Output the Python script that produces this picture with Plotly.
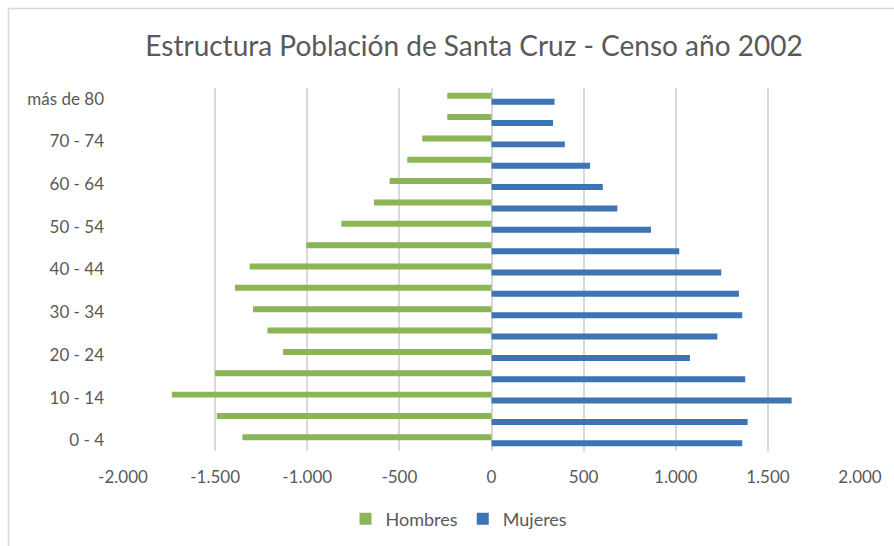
import plotly.graph_objects as go

categorias = ["0 - 4", "5 - 9", "10 - 14", "15 - 19", "20 - 24", "25 - 29", "30 - 34",
              "35 - 39", "40 - 44", "45 - 49", "50 - 54", "55 - 59", "60 - 64",
              "65 - 69", "70 - 74", "75 - 79", "más de 80"]
hombres = [1352, 1491, 1735, 1500, 1132, 1216, 1294, 1392, 1312, 1005, 815, 638, 553,
           457, 376, 240, 240]
mujeres = [1361, 1390, 1629, 1377, 1077, 1226, 1361, 1343, 1247, 1019, 866, 683, 604,
           535, 398, 334, 342]
etiquetas_y = ["0 - 4", "10 - 14", "20 - 24", "30 - 34", "40 - 44", "50 - 54",
               "60 - 64", "70 - 74", "más de 80"]
valores_x = [-2000, -1500, -1000, -500, 0, 500, 1000, 1500, 2000]
etiquetas_x = ["-2.000", "-1.500", "-1.000", "-500", "0", "500", "1.000", "1.500", "2.000"]

FONT = "Lato"
GRAY = "#595959"
W = 0.28

fig = go.Figure()
fig.add_trace(go.Bar(
    y=categorias, x=[-v for v in hombres], orientation="h", name="Hombres",
    marker=dict(color="#8cb558", line=dict(width=0)), width=W, offset=0,
))
fig.add_trace(go.Bar(
    y=categorias, x=mujeres, orientation="h", name="Mujeres",
    marker=dict(color="#3d74b3", line=dict(width=0)), width=W, offset=-W,
))

fig.update_layout(
    width=894, height=546,
    margin=dict(l=123, r=34, t=88, b=95, autoexpand=False),
    paper_bgcolor="white", plot_bgcolor="white",
    font=dict(family=FONT, color=GRAY, size=17),
    title=dict(text="Estructura Población de Santa Cruz - Censo año 2002",
               x=474 / 894, xanchor="center", y=1 - 46 / 546, yanchor="middle",
               font=dict(family=FONT, size=28, color=GRAY)),
    showlegend=True,
    legend=dict(orientation="h", x=(459 - 123) / 737, xanchor="center",
                y=(451 - 519) / 363, yanchor="middle",
                font=dict(family=FONT, size=18, color=GRAY),
                itemwidth=30, bgcolor="rgba(0,0,0,0)"),
    bargap=0.44,
    shapes=[dict(type="rect", xref="paper", yref="paper",
                 x0=(8.5 - 123) / 737, x1=1.2, y0=-0.5, y1=(451 - 8.5) / 363,
                 line=dict(color="#d9d9d9", width=1.5), fillcolor="rgba(0,0,0,0)",
                 layer="below")],
)
fig.update_xaxes(range=[-2000, 2000], tickvals=valores_x, ticktext=etiquetas_x,
                 showgrid=True, gridcolor="#d9d9d9", gridwidth=1.5,
                 zeroline=False, showline=False, ticks="", automargin=False,
                 ticklabelstandoff=14, tickfont=dict(size=17, color=GRAY))
fig.update_yaxes(categoryorder="array", categoryarray=categorias,
                 tickvals=etiquetas_y, showgrid=False, zeroline=False,
                 showline=False, ticks="", ticklabelstandoff=18, automargin=False,
                 tickfont=dict(size=17, color=GRAY))

fig.write_html("out.html", config={"displayModeBar": False},
               post_script="document.body.style.margin='0';document.body.style.overflow='hidden';")
